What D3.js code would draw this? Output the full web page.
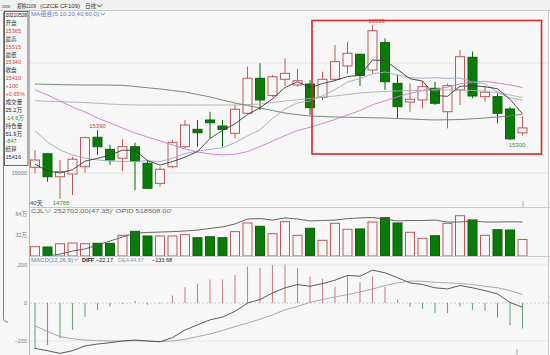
<!DOCTYPE html>
<html><head><meta charset="utf-8">
<script src="https://cdn.jsdelivr.net/npm/d3@7/dist/d3.min.js"></script>
<style>
html,body{margin:0;padding:0;background:#f7f7f7;}
svg{display:block;font-family:"Liberation Sans","Noto Sans CJK SC",sans-serif;}
</style></head><body>
<svg id="c" width="550" height="355"></svg>
<script>
// ---------- data ----------
const days = d3.range(40);
const open  = [15052,15175,14966,14991,15057,15325,15215,15134,15239,15088,14906,15057,15239,15397,15482,15427,15361,15543,15861,15705,15852,15800,15809,15688,15852,15973,16079,15936,16185,15815,15645,15664,15770,15557,15755,16052,15694,15694,15582,15365];
const high  = [15209,15182,15118,15148,15330,15390,15255,15306,15275,15118,15057,15300,15482,15482,15557,15482,15618,15966,15997,15891,16043,15945,15845,15921,16164,16194,16085,16345,16225,15891,15815,15830,15830,15815,16118,16103,15785,15725,15603,15515];
const low   = [14997,14921,14765,14800,15003,15164,15073,15018,14845,14855,14875,15043,15227,15239,15315,15239,15315,15535,15573,15691,15791,15785,15527,15664,15845,15906,15791,15906,15755,15497,15557,15588,15618,15406,15618,15679,15648,15452,15300,15340];
const close = [15118,14966,15012,15125,15321,15239,15118,15239,15109,14861,15034,15279,15436,15366,15457,15397,15579,15861,15664,15875,15906,15839,15594,15852,16012,16088,15888,16294,15830,15603,15670,15785,15634,15794,16057,15700,15734,15543,15310,15410];
const ma5   = [15080,15020,15000,15030,15108,15133,15163,15208,15205,15113,15072,15104,15144,15195,15314,15387,15447,15532,15592,15675,15777,15829,15776,15813,15841,15877,15887,16027,16022,15941,15857,15836,15704,15697,15788,15794,15784,15766,15669,15539];
const ma10  = [15382,15282,15209,15164,15136,15118,15109,15105,15105,15111,15102,15134,15176,15200,15214,15230,15276,15338,15393,15495,15582,15638,15654,15702,15758,15827,15858,15901,15918,15891,15867,15862,15866,15860,15864,15826,15810,15735,15683,15664];
const ma20  = [15755,15709,15655,15600,15555,15500,15455,15409,15364,15327,15291,15255,15218,15191,15173,15164,15170,15195,15240,15290,15340,15386,15415,15451,15486,15528,15567,15620,15656,15693,15725,15750,15760,15781,15811,15826,15834,15818,15800,15777];
const ma40  = [15809,15806,15803,15801,15800,15800,15799,15797,15786,15775,15764,15750,15736,15714,15691,15664,15636,15614,15591,15568,15545,15530,15518,15513,15509,15507,15505,15502,15500,15495,15491,15486,15482,15484,15486,15493,15500,15509,15518,15535];
const ma60  = [15657,15652,15648,15645,15640,15634,15627,15622,15618,15618,15618,15618,15618,15618,15618,15618,15618,15622,15627,15640,15655,15666,15677,15689,15700,15714,15727,15735,15741,15746,15750,15753,15755,15755,15755,15750,15745,15730,15709,15686];
const volume = [14.2,13.7,18.7,19.8,18.7,19.3,19.3,31.5,37.6,30.5,30.5,30.5,32.5,27.9,29.4,27.9,37.1,50.3,45.3,34.0,52.3,31.5,42.2,23.9,49.8,40.7,41.2,51.8,58.4,50.3,36.1,27.0,30.9,49.8,61.4,54.9,31.5,40.1,39.6,25.2];
const openInt = [35.1,36.0,36.9,38.3,39.3,41.1,43.0,44.9,46.7,47.0,47.2,47.4,47.7,48.1,48.9,49.6,51.0,53.3,53.5,52.8,53.8,53.3,52.4,52.6,52.8,53.5,53.8,54.0,53.3,52.4,52.6,52.6,52.8,51.9,51.9,52.4,51.9,51.9,52.0,51.9];
const diff = [-239,-251,-265,-251,-226,-216,-209,-200,-195,-200,-204,-182,-142,-115,-89,-74,-44,0,18,53,80,97,88,102,120,145,141,173,159,133,106,97,80,74,92,80,65,48,3,-22.17];
const dea  = [-120,-150,-177,-188,-195,-198,-200,-200,-198,-200,-204,-200,-191,-177,-163,-145,-124,-106,-85,-62,-36,-18,3,18,32,44,58,74,92,106,115,115,109,106,102,97,88,80,65,44.67];
const macd = [-239,-221,-186,-142,-74,-36,-18,-5,12,-9,-4,39,83,102,124,124,148,191,186,200,203,186,138,127,85,145,111,141,85,18,-21,-32,-53,-53,-18,-36,-41,-76,-117,-133.68];
const priceGrid = [15000,16000];
const priceLabels = [15000];
const volTicks = [32,64];
const macdTicks = [-200,0,200];
const infoRows = ["20210528","开盘","15365","最高","15515","最低","15340","收盘","15410","+100","+0.65%","成交量","25.2万","-14.6万","持仓量","51.9万","-847","结算","15416"];
const infoKinds = ["d","l","u","l","u","l","u","l","u","u","u","l","d","g","l","d","g","l","n"];
const markHigh = {i:27, text:"16533"};
const markHigh2 = {i:5, text:"15390"};
const markLow = {i:2, text:"14765"};
const markLow2 = {i:38, text:"15300"};

// ---------- drawing ----------
const svg = d3.select("#c");
const BG = "#f7f7f7", UP = "#b85a5c", DN = "#0b7a0b", DNS = "#0a650a", GREENTXT = "#2e8b3a", REDTXT = "#cc4444";
svg.append("rect").attr("width",550).attr("height",355).attr("fill",BG);

const x = d3.scalePoint().domain(days).range([35, 522.5]);
const yP = d3.scaleLinear().domain([15000,16000]).range([173,63]);
const yV = d3.scaleLinear().domain([0,64]).range([256,214]);
const yOI = d3.scaleLinear().domain([36,51.9]).range([256,222]);
const yM = d3.scaleLinear().domain([-200,200]).range([341,265]);

const defs = svg.append("defs");
function clip(id,y0,y1){defs.append("clipPath").attr("id",id).append("rect").attr("x",29.5).attr("y",y0).attr("width",518.5).attr("height",y1-y0);}
clip("cMain",11,207); clip("cVol",208,256); clip("cMacd",257,355);

// title bar
svg.append("rect").attr("width",550).attr("height",10).attr("fill","#f1f1f1");
const tb = svg.append("g").attr("font-size",6).attr("fill","#333");
tb.append("text").attr("x",2).attr("y",7.5).attr("fill","#555").attr("font-size",5).text("ooo");
tb.append("text").attr("x",17).attr("y",7.5).attr("textLength",19).attr("lengthAdjust","spacingAndGlyphs").text("郑棉2109");
tb.append("text").attr("x",40).attr("y",7.5).attr("textLength",40).attr("lengthAdjust","spacingAndGlyphs").text("(CZCE CF109)");
tb.append("text").attr("x",85).attr("y",7.5).attr("textLength",11).attr("lengthAdjust","spacingAndGlyphs").text("日线");
tb.append("path").attr("d","M97,4.5 L99.5,7 L102,4.5").attr("fill","none").attr("stroke","#333").attr("stroke-width",0.9);

// frame
const fr = svg.append("g").attr("stroke","#c9c9c9").attr("stroke-width",1).attr("fill","none");
fr.append("line").attr("x1",0).attr("x2",550).attr("y1",10.5).attr("y2",10.5);
fr.append("line").attr("x1",29.5).attr("x2",29.5).attr("y1",10.5).attr("y2",355).attr("stroke","#b5b5b5");
fr.append("line").attr("x1",29.5).attr("x2",550).attr("y1",207.5).attr("y2",207.5);
fr.append("line").attr("x1",29.5).attr("x2",550).attr("y1",256.5).attr("y2",256.5);
fr.append("line").attr("x1",548.5).attr("x2",548.5).attr("y1",10.5).attr("y2",355);

// grid
const gr = svg.append("g").attr("stroke","#e0e0e0").attr("stroke-width",0.8);
priceGrid.forEach(v=>gr.append("line").attr("x1",30).attr("x2",548).attr("y1",yP(v)).attr("y2",yP(v)));
macdTicks.forEach(v=>gr.append("line").attr("x1",30).attr("x2",548).attr("y1",yM(v)).attr("y2",yM(v))
  .attr("stroke",v===0?"#c4c4c4":"#e3e3e3").attr("stroke-dasharray",v===0?"2,2":null));

// axes
function styleAxis(g){g.select(".domain").remove();g.selectAll("line").remove();
  g.selectAll("text").attr("font-size",5.5).attr("fill","#7a7a7a").attr("font-family","Liberation Sans, Noto Sans CJK SC, sans-serif");}
svg.append("g").attr("transform","translate(28,0)").call(d3.axisLeft(yP).tickValues(priceLabels).tickSize(0).tickPadding(1).tickFormat(d3.format("d"))).call(styleAxis);
svg.append("g").attr("transform","translate(28,0)").call(d3.axisLeft(yV).tickValues(volTicks).tickSize(0).tickPadding(1).tickFormat(d=>d+"万")).call(styleAxis);
svg.append("g").attr("transform","translate(28,0)").call(d3.axisLeft(yM).tickValues(macdTicks).tickSize(0).tickPadding(1).tickFormat(d3.format("d"))).call(styleAxis);

// candles
const main = svg.append("g").attr("clip-path","url(#cMain)");
const cg = main.selectAll("g.c").data(days).join("g");
cg.append("line").attr("x1",i=>x(i)).attr("x2",i=>x(i)).attr("y1",i=>yP(high[i])).attr("y2",i=>yP(low[i]))
  .attr("stroke",i=>close[i]>=open[i]?UP:DNS).attr("stroke-width",1);
cg.append("rect").attr("x",i=>x(i)-4.5).attr("width",9)
  .attr("y",i=>yP(Math.max(open[i],close[i])))
  .attr("height",i=>Math.max(1,Math.abs(yP(open[i])-yP(close[i]))))
  .attr("fill",i=>close[i]>=open[i]?BG:DN).attr("stroke",i=>close[i]>=open[i]?UP:DNS).attr("stroke-width",1);

// MA lines
const lineP = arr => d3.line().x(i=>x(i)).y(i=>yP(arr[i]))(days);
[[ma60,"#a9b3a6"],[ma40,"#66806a"],[ma20,"#c77cc6"],[ma10,"#98aac2"],[ma5,"#3a3a3a"]].forEach(([a,c])=>
  main.append("path").attr("d",lineP(a)).attr("fill","none").attr("stroke",c).attr("stroke-width",0.9));

// MA header
svg.append("text").attr("x",31).attr("y",16).attr("font-size",6).attr("fill","#5a80c4")
  .attr("textLength",68).attr("lengthAdjust","spacingAndGlyphs").text("MA组合(5,10,20,40,60,0)");
svg.append("path").attr("d","M101,13 L103,15 L105,13").attr("fill","none").attr("stroke","#5a80c4").attr("stroke-width",0.8);

// high/low labels
function mark(m,y,col,dy){svg.append("text").attr("x",x(m.i)+ (m.i===27?4:m.i===38?7:m.i===2?1:0)).attr("y",y+dy).attr("text-anchor","middle")
  .attr("font-size",6).attr("fill",col).text(m.text);}
mark(markHigh, yP(high[markHigh.i]), REDTXT, -2.5);
mark(markHigh2, yP(high[markHigh2.i]), REDTXT, -2);
mark(markLow, yP(low[markLow.i]), GREENTXT, 6);
mark(markLow2, yP(low[markLow2.i]), GREENTXT, 7);
svg.append("text").attr("x",30).attr("y",205).attr("font-size",6).attr("fill","#444").text("40天");

// red highlight box
svg.append("rect").attr("x",312).attr("y",20.5).attr("width",229.5).attr("height",133.5)
  .attr("fill","none").attr("stroke","#d6282b").attr("stroke-width",1.6);

// cursor ticks
svg.append("line").attr("x1",523).attr("x2",523).attr("y1",201).attr("y2",207).attr("stroke","#999").attr("stroke-width",0.8);
svg.append("line").attr("x1",517).attr("x2",517).attr("y1",349).attr("y2",355).attr("stroke","#999").attr("stroke-width",0.8);

// volume
const vol = svg.append("g").attr("clip-path","url(#cVol)");
vol.selectAll("rect").data(days).join("rect")
  .attr("x",i=>x(i)-4.5).attr("width",9)
  .attr("y",i=>yV(volume[i])).attr("height",i=>yV(0)-yV(volume[i]))
  .attr("fill",i=>close[i]>=open[i]?BG:DN).attr("stroke",i=>close[i]>=open[i]?UP:DNS).attr("stroke-width",1);
vol.append("path").attr("d",d3.line().x(i=>x(i)).y(i=>yOI(openInt[i]))(days)).attr("fill","none").attr("stroke","#555").attr("stroke-width",0.9);
svg.append("text").attr("x",31).attr("y",212.5).attr("font-size",5.5).attr("fill","#666")
  .attr("textLength",141).attr("lengthAdjust","spacingAndGlyphs").text("CJL∨ 252702.00(47.35)' OPID 518508.00'");

// MACD
const mg = svg.append("g").attr("clip-path","url(#cMacd)");
mg.selectAll("line").data(days).join("line")
  .attr("x1",i=>x(i)).attr("x2",i=>x(i)).attr("y1",yM(0)).attr("y2",i=>yM(macd[i]))
  .attr("stroke",i=>macd[i]>=0?"#c4868b":"#6ea27c").attr("stroke-width",1.1);
mg.append("path").attr("d",d3.line().x(i=>x(i)).y(i=>yM(dea[i]))(days)).attr("fill","none").attr("stroke","#9aa2b2").attr("stroke-width",0.9);
mg.append("path").attr("d",d3.line().x(i=>x(i)).y(i=>yM(diff[i]))(days)).attr("fill","none").attr("stroke","#4a4a4a").attr("stroke-width",0.9);
const mh = svg.append("g").attr("font-size",5.5);
mh.append("text").attr("x",31).attr("y",261.5).attr("fill","#5a80c4").attr("textLength",42).attr("lengthAdjust","spacingAndGlyphs").text("MACD(12,26,9)");
mh.append("path").attr("d","M74,258.5 L76,260.5 L78,258.5").attr("fill","none").attr("stroke","#5a80c4").attr("stroke-width",0.8);
mh.append("text").attr("x",82).attr("y",261.5).attr("fill","#222").attr("font-weight","bold").text("DIFF");
mh.append("text").attr("x",96).attr("y",261.5).attr("fill","#222").text(d3.format(".2f")(diff[39]));
mh.append("text").attr("x",118).attr("y",261.5).attr("fill","#8a95b0").text("DEA");
mh.append("text").attr("x",130).attr("y",261.5).attr("fill","#8a95b0").text(d3.format(".2f")(dea[39]));
mh.append("text").attr("x",152).attr("y",261.5).attr("fill","#222").text(d3.format(".2f")(macd[39]));

// left outline
svg.append("path").attr("d","M3.5,12 V318 Q3.5,322 8,322").attr("fill","none").attr("stroke","#666").attr("stroke-width",0.8);

// info box
svg.append("rect").attr("x",4.5).attr("y",11.5).attr("width",23.5).attr("height",154).attr("fill",BG).attr("stroke","#444").attr("stroke-width",0.8);
const colMap = {d:"#222",l:"#333",u:REDTXT,g:GREENTXT,n:"#1e2a55"};
svg.append("g").selectAll("text").data(infoRows).join("text")
  .attr("x",5.5).attr("y",(d,i)=>17+i*7.9).attr("font-size",5.6).attr("fill",(d,i)=>colMap[infoKinds[i]])
  .attr("textLength",(d,i)=>i===0?21.5:null).attr("lengthAdjust","spacingAndGlyphs").text(d=>d);
</script>
</body></html>
